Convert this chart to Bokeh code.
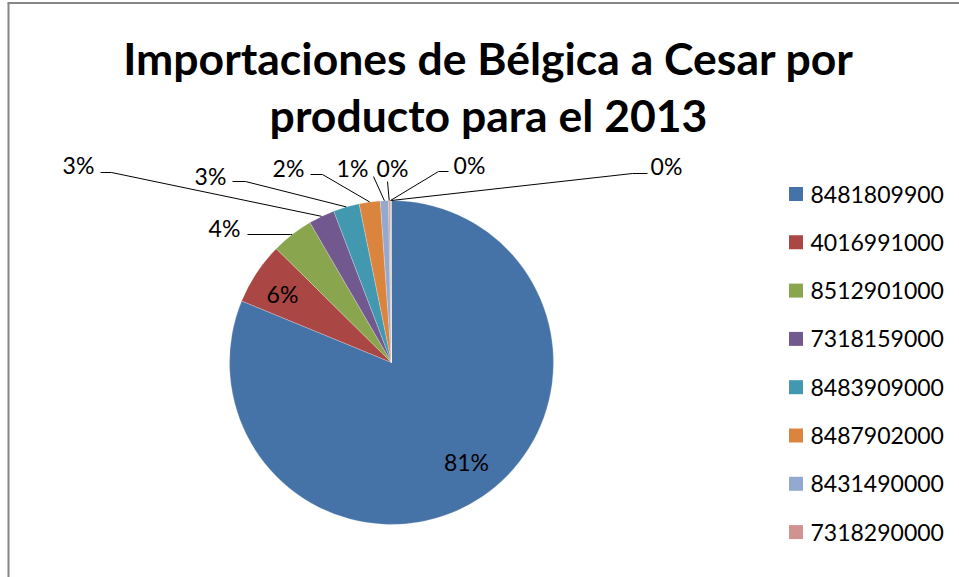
import math
from bokeh.plotting import figure
from bokeh.models import ColumnDataSource
from bokeh.core.properties import value
from bokeh.embed import file_html
from bokeh.resources import INLINE

# ---------------- data ----------------
title_lines = ["Importaciones de Bélgica a Cesar por", "producto para el 2013"]
categories = ["8481809900", "4016991000", "8512901000", "7318159000",
              "8483909000", "8487902000", "8431490000", "7318290000", "", ""]
shares = [81.2, 6.2, 4.2, 2.6, 2.6, 2.1, 0.8, 0.15, 0.1, 0.05]
colors = ["#4572A7", "#AA4643", "#89A54E", "#71588F", "#4198AF",
          "#DB843D", "#93A9CF", "#D19392", "#B9CD96", "#A99BBD"]
legend_count = 8

# ---------------- layout (screen px of the reference) ----------------
W, H = 959, 577
def S(sx, sy):
    return sx, H - sy

CX, CY = S(391, 362)
R = 162
label_pos = [(466, 461), (282, 293), (224, 227), (78, 164), (210, 175),
             (288, 167), (352, 167), (392, 167), (469, 164), (666, 165)]
leader_pts = [None, None,
              [(247, 234), (290, 234)],
              [(100, 172), (111, 172)],
              [(232, 181), (245, 181)],
              [(310, 174), (322, 174)],
              [(373, 176)],
              [(387, 181)],
              [(448, 171), (438, 171)],
              [(647, 173), (632, 173)]]

total = sum(shares)
starts, ends, mids = [], [], []
c = 0.0
for v in shares:
    f0 = c / total
    c += v
    f1 = c / total
    starts.append(math.pi / 2 - 2 * math.pi * f0)
    ends.append(math.pi / 2 - 2 * math.pi * f1)
    mids.append((f0 + f1) / 2)

p = figure(width=W, height=H, x_range=(0, W), y_range=(0, H),
           output_backend="svg", toolbar_location=None, min_border=0)
p.axis.visible = False
p.grid.visible = False
p.outline_line_color = None
p.background_fill_color = "white"
p.border_fill_color = "white"

# frame lines (left and top)
p.segment(x0=[8, 7], y0=[0, H - 2.5], x1=[8, W], y1=[H - 2.5, H - 2.5],
          line_color="#868686", line_width=2)

src = ColumnDataSource(dict(start=starts, end=ends, color=colors))
p.wedge(x=CX, y=CY, radius=R, start_angle="start", end_angle="end",
        direction="clock", fill_color="color", line_color="white",
        line_width=0.4, line_alpha=0.6, source=src)

# leaders
xs, ys = [], []
for i, pts in enumerate(leader_pts):
    if pts is None:
        continue
    th = 2 * math.pi * mids[i]
    ex, ey = CX + R * math.sin(th), CY + R * math.cos(th)
    xs.append([S(*q)[0] for q in pts] + [ex])
    ys.append([S(*q)[1] for q in pts] + [ey])
p.multi_line(xs=xs, ys=ys, line_color="black", line_width=1)

labels = ["%d%%" % round(v / total * 100) for v in shares]
lx = [S(*q)[0] for q in label_pos]
ly = [S(*q)[1] for q in label_pos]
p.text(x=lx, y=ly, text=labels, text_font=value("Lato"), text_font_size="23px",
       text_align="center", text_baseline="middle", text_color="black")

# title
tx, ty1 = S(488, 57)
_, ty2 = S(488, 114)
p.text(x=[tx, tx], y=[ty1, ty2], text=title_lines, text_font=value("Lato"),
       text_font_size="44.5px", text_font_style="bold", text_align="center",
       text_baseline="alphabetic", text_color="black")

# legend
leg_y = [193.5 + 48.3 * i for i in range(legend_count)]
sq_x = [S(795.5, y)[0] for y in leg_y]
sq_y = [S(795.5, y)[1] for y in leg_y]
p.rect(x=sq_x, y=sq_y, width=14, height=14, fill_color=colors[:legend_count],
       line_color=None)
txt_x = [S(810, y)[0] for y in leg_y]
p.text(x=txt_x, y=sq_y, text=categories[:legend_count], text_font=value("Lato"),
       text_font_size="23px", text_align="left", text_baseline="middle",
       text_color="black")

open("out.html", "w").write(file_html(p, INLINE))
